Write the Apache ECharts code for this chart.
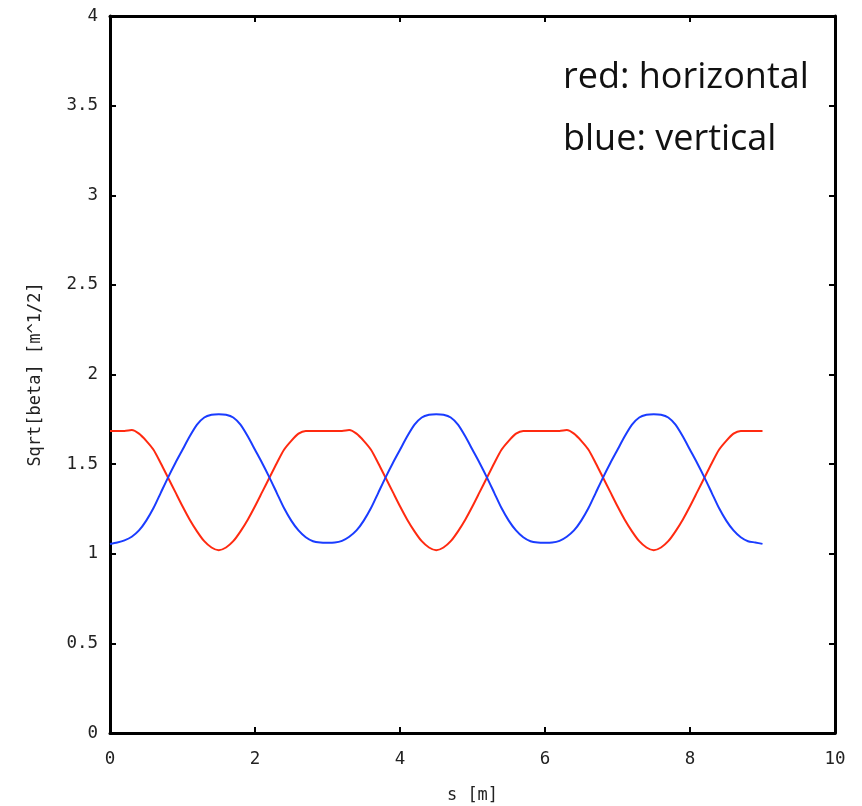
<!DOCTYPE html>
<html>
<head>
<meta charset="utf-8">
<script src="https://cdn.jsdelivr.net/npm/echarts@6/dist/echarts.min.js"></script>
<style>
html,body{margin:0;padding:0;background:#fff;}
#wrap{width:862px;height:806px;overflow:hidden;background:#fff;}
#c{width:846px;height:806px;}
</style>
</head>
<body>
<div id="wrap"><div id="c"></div></div>
<script>
// s positions [m]
const sValues = [
0.0,0.1,0.2,0.3,0.4,0.5,0.6,0.7,0.8,0.9,
1.0,1.1,1.2,1.3,1.4,1.5,1.6,1.7,1.8,1.9,
2.0,2.1,2.2,2.3,2.4,2.5,2.6,2.7,2.8,2.9,
3.0,3.1,3.2,3.3,3.4,3.5,3.6,3.7,3.8,3.9,
4.0,4.1,4.2,4.3,4.4,4.5,4.6,4.7,4.8,4.9,
5.0,5.1,5.2,5.3,5.4,5.5,5.6,5.7,5.8,5.9,
6.0,6.1,6.2,6.3,6.4,6.5,6.6,6.7,6.8,6.9,
7.0,7.1,7.2,7.3,7.4,7.5,7.6,7.7,7.8,7.9,
8.0,8.1,8.2,8.3,8.4,8.5,8.6,8.7,8.8,8.9,
9.0];

// red: horizontal  sqrt(beta_x)
const horizontal = [
1.685,1.685,1.685,1.69,1.67,1.63,1.58,1.505,1.425,1.345,
1.265,1.19,1.125,1.07,1.035,1.02,1.035,1.07,1.125,1.19,
1.265,1.345,1.425,1.505,1.58,1.63,1.67,1.685,1.685,1.685,
1.685,1.685,1.685,1.69,1.67,1.63,1.58,1.505,1.425,1.345,
1.265,1.19,1.125,1.07,1.035,1.02,1.035,1.07,1.125,1.19,
1.265,1.345,1.425,1.505,1.58,1.63,1.67,1.685,1.685,1.685,
1.685,1.685,1.685,1.69,1.67,1.63,1.58,1.505,1.425,1.345,
1.265,1.19,1.125,1.07,1.035,1.02,1.035,1.07,1.125,1.19,
1.265,1.345,1.425,1.505,1.58,1.63,1.67,1.685,1.685,1.685,
1.685];

// blue: vertical  sqrt(beta_y)
const vertical = [
1.055,1.063,1.075,1.095,1.13,1.185,1.255,1.34,1.425,1.505,
1.58,1.655,1.72,1.76,1.775,1.778,1.775,1.76,1.72,1.655,
1.58,1.505,1.425,1.34,1.255,1.185,1.13,1.092,1.07,1.063,
1.062,1.063,1.072,1.095,1.13,1.185,1.255,1.34,1.425,1.505,
1.58,1.655,1.72,1.76,1.775,1.778,1.775,1.76,1.72,1.655,
1.58,1.505,1.425,1.34,1.255,1.185,1.13,1.092,1.07,1.063,
1.062,1.063,1.072,1.095,1.13,1.185,1.255,1.34,1.425,1.505,
1.58,1.655,1.72,1.76,1.775,1.778,1.775,1.76,1.72,1.655,
1.58,1.505,1.425,1.34,1.255,1.185,1.13,1.092,1.07,1.063,
1.055];

const xTicks = {min:0, max:10, interval:2};
const yTicks = {min:0, max:4, interval:0.5};
const legendLines = ['red: horizontal', 'blue: vertical'];

const mono = 'DejaVu Sans Mono';
const frame = {show:true, onZero:false, lineStyle:{color:'#000', width:3}};
const tick = {show:true, inside:true, length:6, lineStyle:{color:'#000', width:2}};

const chart = echarts.init(document.getElementById('c'), null, {renderer:'canvas'});
chart.setOption({
  animation:false,
  backgroundColor:'#fff',
  grid:{left:110, right:11, top:16, bottom:73, containLabel:false, outerBoundsMode:'none'},
  xAxis:[
    {type:'value', position:'bottom', min:xTicks.min, max:xTicks.max, interval:xTicks.interval,
     axisLine:frame, axisTick:tick, splitLine:{show:false},
     axisLabel:{margin:17, fontFamily:mono, fontSize:17.5, color:'#222'},
     name:'s [m]', nameLocation:'middle', nameGap:54,
     nameTextStyle:{fontFamily:mono, fontSize:17, color:'#222'}},
    {type:'value', position:'top', min:xTicks.min, max:xTicks.max, interval:xTicks.interval,
     axisLine:frame, axisTick:tick, splitLine:{show:false}, axisLabel:{show:false}}
  ],
  yAxis:[
    {type:'value', position:'left', min:yTicks.min, max:yTicks.max, interval:yTicks.interval,
     axisLine:frame, axisTick:tick, splitLine:{show:false},
     axisLabel:{margin:12, fontFamily:mono, fontSize:17.5, color:'#222'},
     name:'Sqrt[beta] [m^1/2]', nameLocation:'middle', nameGap:66, nameRotate:90,
     nameTextStyle:{fontFamily:mono, fontSize:17, color:'#222'}},
    {type:'value', position:'right', min:yTicks.min, max:yTicks.max, interval:yTicks.interval,
     axisLine:frame, axisTick:tick, splitLine:{show:false}, axisLabel:{show:false}}
  ],
  series:[
    {name:'horizontal', type:'line', xAxisIndex:0, yAxisIndex:0, showSymbol:false, smooth:0.25,
     lineStyle:{color:'#ff2a10', width:2}, itemStyle:{color:'#ff2a10'},
     data: sValues.map((s,i)=>[s, horizontal[i]])},
    {name:'vertical', type:'line', xAxisIndex:0, yAxisIndex:0, showSymbol:false, smooth:0.25,
     lineStyle:{color:'#1a3cff', width:2}, itemStyle:{color:'#1a3cff'},
     data: sValues.map((s,i)=>[s, vertical[i]])}
  ],
  graphic:[
    {type:'text', left:563, top:60, style:{text:legendLines[0], font:'36px "Open Sans"', fill:'#111'}},
    {type:'text', left:563, top:122, style:{text:legendLines[1], font:'36px "Open Sans"', fill:'#111'}}
  ]
});
</script>
</body>
</html>
